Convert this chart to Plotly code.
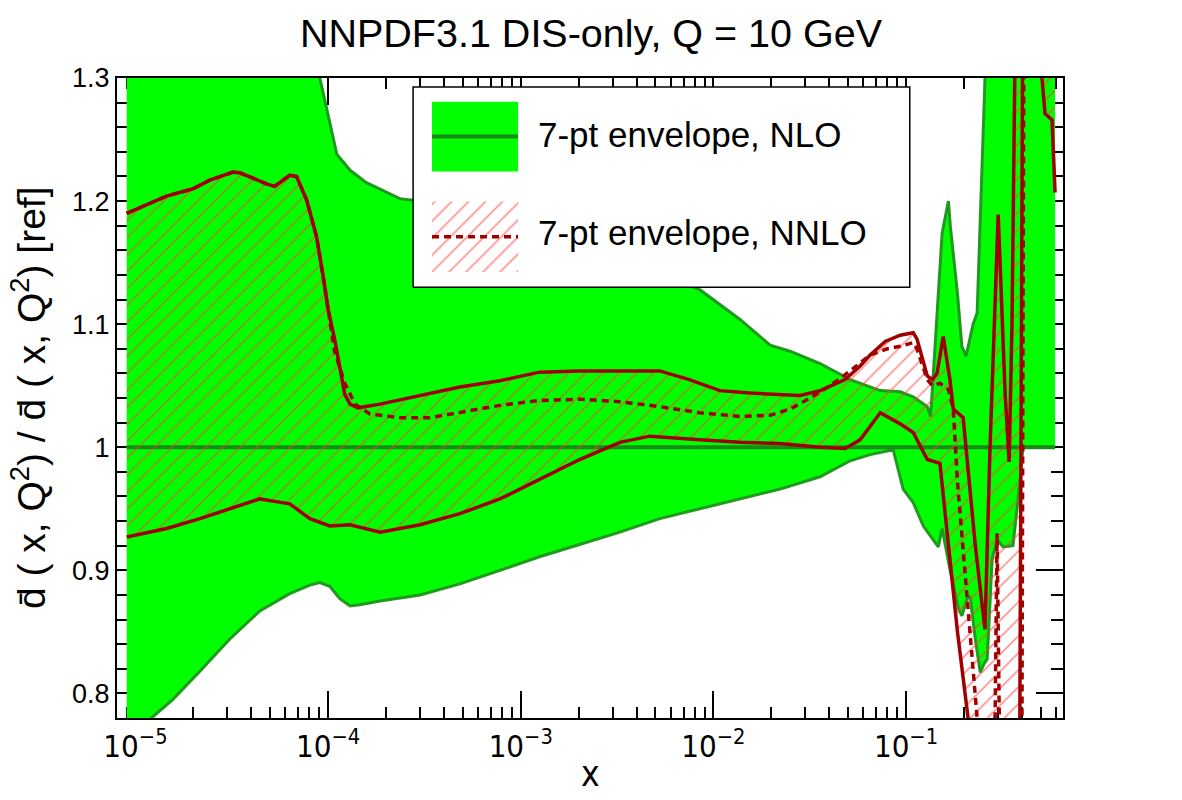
import plotly.graph_objects as go

# ---------------- data ----------------
nlo_up_x = [9.0e-6, 5.0e-5, 8.0e-5, 9.06e-5, 1.11e-4, 1.30e-4, 1.58e-4, 2.36e-4, 4.29e-4, 7.8e-4,
            1.41e-3, 2.57e-3, 4.68e-3, 8.5e-3, 1.37e-2, 1.97e-2, 2.5e-2, 3.58e-2, 5.13e-2, 7.35e-2,
            9.33e-2, 0.109, 0.129, 0.134, 0.137, 0.150, 0.154, 0.166, 0.170, 0.185, 0.195, 0.205,
            0.223, 0.234, 0.257, 0.27, 0.594]
nlo_up_y = [1.45, 1.42, 1.36, 1.30, 1.238, 1.225, 1.215, 1.202, 1.197, 1.19,
            1.177, 1.16, 1.144, 1.128, 1.104, 1.083, 1.078, 1.068, 1.055, 1.046,
            1.045, 1.041, 1.033, 1.025, 1.047, 1.15, 1.174, 1.20, 1.179, 1.125, 1.082, 1.074,
            1.100, 1.109, 1.30, 1.40, 1.40]

nlo_lo_x = [9.0e-6, 1.21e-5, 1.56e-5, 2.16e-5, 3.08e-5, 4.42e-5, 6.32e-5, 8.04e-5, 9.06e-5, 1.02e-4,
            1.15e-4, 1.30e-4, 1.46e-4, 1.86e-4, 3.0e-4, 4.83e-4, 7.8e-4, 1.25e-3, 2.02e-3, 3.27e-3,
            5.27e-3, 8.5e-3, 1.37e-2, 2.22e-2, 3.58e-2, 5.13e-2, 6.52e-2, 8.58e-2, 9.66e-2, 0.109,
            0.123, 0.147, 0.154, 0.169, 0.187, 0.195, 0.208, 0.215, 0.229, 0.243, 0.254, 0.264,
            0.280, 0.297, 0.319, 0.359, 0.382, 0.405, 0.594]
nlo_lo_y = [0.74, 0.78, 0.795, 0.818, 0.844, 0.867, 0.881, 0.888, 0.890, 0.887,
            0.877, 0.871, 0.872, 0.875, 0.880, 0.889, 0.900, 0.911, 0.921, 0.931,
            0.942, 0.950, 0.958, 0.966, 0.976, 0.989, 0.994, 0.998, 0.966, 0.955,
            0.936, 0.919, 0.934, 0.901, 0.869, 0.863, 0.877, 0.879, 0.844, 0.817, 0.824, 0.828,
            0.909, 0.925, 0.919, 0.920, 0.958, 1.0, 1.0]

nlo_c_x = [9.0e-6, 0.594]
nlo_c_y = [1.0, 1.0]

nnlo_up_x = [9.0e-6, 1.45e-5, 1.99e-5, 2.43e-5, 3.21e-5, 3.48e-5, 4.79e-5, 5.28e-5, 6.32e-5, 6.86e-5,
             7.73e-5, 8.71e-5, 9.42e-5, 1.0e-4, 1.08e-4, 1.15e-4, 1.22e-4, 1.30e-4, 1.43e-4, 1.86e-4,
             3.0e-4, 4.83e-4, 7.8e-4, 1.25e-3, 2.02e-3, 3.27e-3, 5.27e-3, 7.5e-3, 1.08e-2, 1.55e-2,
             2.22e-2, 2.82e-2, 3.58e-2, 4.83e-2, 5.78e-2, 6.52e-2, 7.8e-2, 9.33e-2, 0.109, 0.114,
             0.129, 0.137, 0.145, 0.156, 0.169, 0.176, 0.198, 0.208, 0.229, 0.257, 0.273, 0.301,
             0.327, 0.343, 0.355, 0.373, 0.594]
nnlo_up_y = [1.19, 1.204, 1.21, 1.217, 1.2235, 1.223, 1.214, 1.212, 1.221, 1.22,
             1.201, 1.171, 1.139, 1.112, 1.088, 1.063, 1.043, 1.035, 1.032, 1.035,
             1.042, 1.049, 1.054, 1.061, 1.062, 1.062, 1.062, 1.055, 1.046, 1.044,
             1.043, 1.042, 1.046, 1.055, 1.066, 1.075, 1.086, 1.091, 1.093, 1.088,
             1.058, 1.055, 1.06, 1.09, 1.055, 1.031, 1.024, 0.99, 0.92, 0.852, 1.0, 1.189,
             1.044, 0.988, 1.10, 1.40, 1.40]

nnlo_lo_x = [9.0e-6, 1.45e-5, 2.16e-5, 3.08e-5, 4.42e-5, 5.28e-5, 6.32e-5, 8.04e-5, 1.02e-4, 1.30e-4,
             1.86e-4, 3.0e-4, 4.83e-4, 7.8e-4, 1.25e-3, 2.02e-3, 3.27e-3, 4.68e-3, 8.5e-3, 1.37e-2,
             2.22e-2, 3.58e-2, 4.83e-2, 5.78e-2, 7.35e-2, 9.33e-2, 0.109, 0.129, 0.150, 0.164,
             0.185, 0.210, 0.23, 0.36, 0.39, 0.405, 0.48, 0.508, 0.527, 0.573, 0.594]
nnlo_lo_y = [0.927, 0.934, 0.942, 0.950, 0.958, 0.956, 0.954, 0.942, 0.936, 0.937,
             0.931, 0.937, 0.946, 0.958, 0.974, 0.990, 1.004, 1.009, 1.006, 1.004,
             1.003, 1.000, 0.999, 1.006, 1.028, 1.019, 1.012, 0.990, 0.987, 0.931,
             0.850, 0.780, 0.70, 0.70, 0.78, 1.40, 1.45, 1.30, 1.271, 1.266, 1.207]

nnlo_c_x = [9.0e-6, 1.45e-5, 1.99e-5, 2.43e-5, 3.21e-5, 3.48e-5, 4.79e-5, 5.28e-5, 6.32e-5, 6.86e-5,
            7.73e-5, 8.71e-5, 9.42e-5, 1.0e-4, 1.08e-4, 1.22e-4, 1.38e-4, 1.65e-4, 2.36e-4, 3.38e-4,
            4.83e-4, 7.8e-4, 1.25e-3, 2.02e-3, 3.27e-3, 5.27e-3, 8.5e-3, 1.37e-2, 1.97e-2, 2.5e-2,
            3.18e-2, 4.04e-2, 5.13e-2, 6.52e-2, 8.0e-2, 9.33e-2, 0.109, 0.114, 0.129, 0.137,
            0.150, 0.166, 0.176, 0.185, 0.205, 0.223, 0.234, 0.245, 0.283, 0.290, 0.297, 0.305,
            0.311, 0.385, 0.40, 0.410, 0.594]
nnlo_c_y = [1.19, 1.204, 1.21, 1.217, 1.2235, 1.223, 1.214, 1.212, 1.221, 1.22,
            1.201, 1.171, 1.139, 1.112, 1.078, 1.052, 1.035, 1.027, 1.024, 1.024,
            1.028, 1.034, 1.038, 1.039, 1.037, 1.033, 1.028, 1.025, 1.026, 1.031,
            1.040, 1.050, 1.062, 1.075, 1.080, 1.082, 1.085, 1.080, 1.055, 1.050,
            1.052, 1.047, 1.031, 0.972, 0.888, 0.822, 0.78, 0.70, 0.70, 0.78, 0.93, 0.78,
            0.70, 0.70, 0.78, 1.40, 1.40]

x_tick_vals = [1e-5, 1e-4, 1e-3, 1e-2, 1e-1]
x_tick_text = ["10<sup>\u22125</sup>", "10<sup>\u22124</sup>", "10<sup>\u22123</sup>",
               "10<sup>\u22122</sup>", "10<sup>\u22121</sup>"]
x_minor_vals = [m * 10 ** e for e in range(-6, 0) for m in range(2, 10)]
y_tick_vals = [0.8, 0.9, 1.0, 1.1, 1.2, 1.3]
y_tick_text = ["0.8", "0.9", "1", "1.1", "1.2", "1.3"]

title_text = "NNPDF3.1 DIS-only, Q = 10 GeV"
ylabel = "d\u0304 ( x, Q<sup>2</sup>) / d\u0304 ( x, Q<sup>2</sup>) [ref]"
xlabel = "x"
leg_nlo = "7-pt envelope, NLO"
leg_nnlo = "7-pt envelope, NNLO"

# ---------------- styles ----------------
GREEN_FILL = "#00ff00"
GREEN_LINE = "#1f9a1f"
GREEN_C = "#178a17"
RED = "#a00000"
HATCH = dict(shape="/", fgcolor="rgba(255,60,60,0.65)", bgcolor="rgba(0,0,0,0)",
             size=12, solidity=0.12, fillmode="replace")
FONT = "Liberation Sans, Arial, Helvetica, sans-serif"
NARROW = "Liberation Sans Narrow, Arial Narrow, DejaVu Sans Condensed, sans-serif"

fig = go.Figure()

fig.add_trace(go.Scatter(x=nlo_lo_x, y=nlo_lo_y, mode="lines",
                         line=dict(color=GREEN_LINE, width=3), showlegend=False))
fig.add_trace(go.Scatter(x=nlo_up_x, y=nlo_up_y, mode="lines", fill="tonexty",
                         fillcolor=GREEN_FILL, line=dict(color=GREEN_LINE, width=3),
                         showlegend=False))
fig.add_trace(go.Scatter(x=nlo_c_x, y=nlo_c_y, mode="lines",
                         line=dict(color=GREEN_C, width=4), showlegend=False))
fig.add_trace(go.Scatter(x=nnlo_lo_x, y=nnlo_lo_y, mode="lines",
                         line=dict(color=RED, width=3.5), showlegend=False))
fig.add_trace(go.Scatter(x=nnlo_up_x, y=nnlo_up_y, mode="lines", fill="tonexty",
                         fillcolor="rgba(0,0,0,0)", fillpattern=HATCH,
                         line=dict(color=RED, width=3.5), showlegend=False))
fig.add_trace(go.Scatter(x=nnlo_c_x, y=nnlo_c_y, mode="lines",
                         line=dict(color=RED, width=3.5, dash="7px,5px"), showlegend=False))

# ---------------- legend drawn on an overlay axis (0..1 box coordinates) ----------------
bx0, bx1, by0, by1 = 0.313, 0.838, 0.673, 0.986
sx0, sx1 = 0.333, 0.424
fig.add_trace(go.Scatter(x=[bx0, bx1, bx1, bx0, bx0], y=[by0, by0, by1, by1, by0],
                         xaxis="x2", yaxis="y2", mode="lines", fill="toself",
                         fillcolor="white", line=dict(color="black", width=1.5),
                         showlegend=False, hoverinfo="skip"))
fig.add_trace(go.Scatter(x=[sx0, sx1, sx1, sx0, sx0], y=[0.854, 0.854, 0.963, 0.963, 0.854],
                         xaxis="x2", yaxis="y2", mode="lines", fill="toself",
                         fillcolor=GREEN_FILL, line=dict(width=0), showlegend=False,
                         hoverinfo="skip"))
fig.add_trace(go.Scatter(x=[sx0, sx1], y=[0.9085, 0.9085], xaxis="x2", yaxis="y2",
                         mode="lines", line=dict(color=GREEN_C, width=4),
                         showlegend=False, hoverinfo="skip"))
fig.add_trace(go.Scatter(x=[sx0, sx1, sx1, sx0, sx0], y=[0.697, 0.697, 0.807, 0.807, 0.697],
                         xaxis="x2", yaxis="y2", mode="lines", fill="toself",
                         fillcolor="rgba(0,0,0,0)", fillpattern=HATCH,
                         line=dict(width=0), showlegend=False, hoverinfo="skip"))
fig.add_trace(go.Scatter(x=[sx0, sx1], y=[0.752, 0.752], xaxis="x2", yaxis="y2",
                         mode="lines", line=dict(color=RED, width=3.5, dash="7px,5px"),
                         showlegend=False, hoverinfo="skip"))

fig.add_annotation(text=leg_nlo, xref="x2", yref="y2", x=0.443, y=0.911,
                   xanchor="left", yanchor="middle", showarrow=False,
                   font=dict(family=FONT, size=35, color="black"))
fig.add_annotation(text=leg_nnlo, xref="x2", yref="y2", x=0.443, y=0.758,
                   xanchor="left", yanchor="middle", showarrow=False,
                   font=dict(family=FONT, size=35, color="black"))

# axis titles as annotations
fig.add_annotation(text=ylabel, xref="paper", yref="paper", x=-0.094, y=0.5,
                   textangle=-90, xanchor="center", yanchor="middle", showarrow=False,
                   font=dict(family=FONT, size=39, color="black"))
fig.add_annotation(text=xlabel, xref="paper", yref="paper", x=0.5, y=-0.088,
                   xanchor="center", yanchor="middle", showarrow=False,
                   font=dict(family=NARROW, size=35, color="black"))

fig.update_layout(
    width=1182, height=800,
    margin=dict(l=117, r=119, t=78, b=82),
    paper_bgcolor="white", plot_bgcolor="white",
    title=dict(text=title_text, x=0.5, xanchor="center", y=0.958, yanchor="middle",
               font=dict(family=FONT, size=39.5, color="black")),
    xaxis=dict(type="log", range=[-5.096, -0.185], showgrid=False, zeroline=False,
               showline=True, linecolor="black", linewidth=2, mirror="ticks",
               ticks="inside", ticklen=27, tickwidth=1.5, tickcolor="black",
               tickvals=x_tick_vals, ticktext=x_tick_text,
               tickfont=dict(family=NARROW, size=31, color="black"),
               minor=dict(tickvals=x_minor_vals, ticks="inside", ticklen=11,
                          tickwidth=1.5, tickcolor="black", showgrid=False),
               layer="below traces"),
    yaxis=dict(range=[0.78, 1.3], showgrid=False, zeroline=False,
               showline=True, linecolor="black", linewidth=2, mirror="ticks",
               ticks="inside", ticklen=27, tickwidth=1.5, tickcolor="black",
               tickvals=y_tick_vals, ticktext=y_tick_text,
               tickfont=dict(family=FONT, size=27, color="black"),
               minor=dict(dtick=0.02, tick0=0.78, ticks="inside", ticklen=12,
                          tickwidth=1.5, tickcolor="black", showgrid=False),
               layer="below traces"),
    xaxis2=dict(overlaying="x", range=[0, 1], visible=False, fixedrange=True),
    yaxis2=dict(overlaying="y", range=[0, 1], visible=False, fixedrange=True),
    showlegend=False,
)

fig.write_html("out.html")
